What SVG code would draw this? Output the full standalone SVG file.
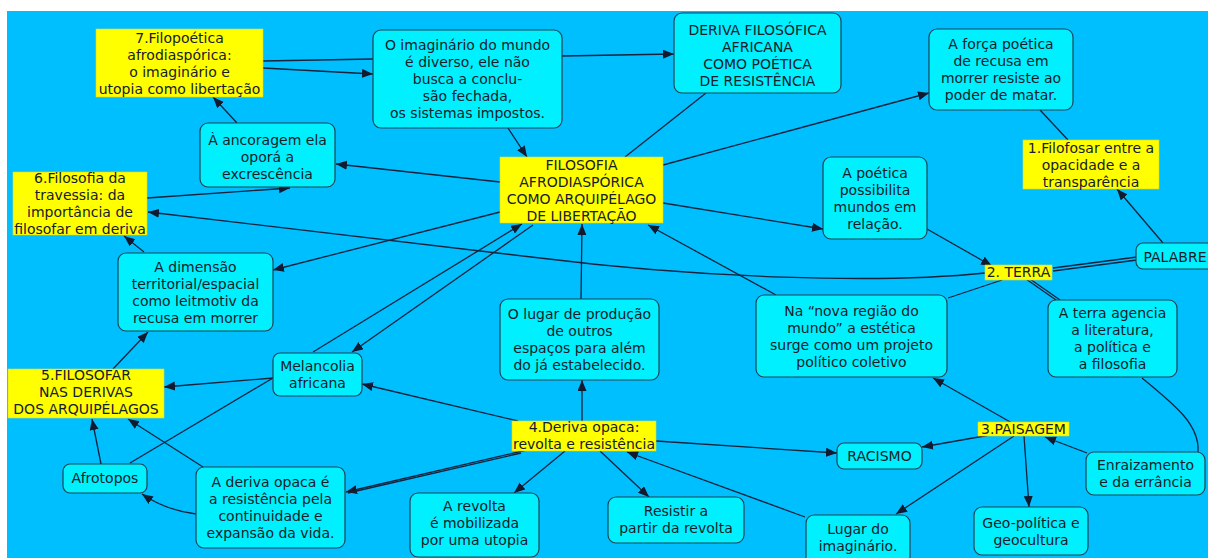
<svg xmlns="http://www.w3.org/2000/svg" width="1208" height="558" viewBox="0 0 1208 558">
<defs>
<marker id="ah" markerUnits="userSpaceOnUse" markerWidth="12" markerHeight="10" refX="11" refY="4.5" orient="auto"><path d="M0,0 L11,4.5 L0,9 z" fill="#111a2e"/></marker>
<style>
.c{fill:#00F0FF;stroke:#1e4455;stroke-width:1.2}
.y{fill:#FFFF00;stroke:#d6d63a;stroke-width:0.6}
text{font-family:"DejaVu Sans",Verdana,sans-serif;font-size:14px;fill:#16202a;text-anchor:middle}
.e path{fill:none;stroke:#14223c;stroke-width:1.3}
.a{marker-end:url(#ah)}
</style>
</defs>
<rect x="0" y="0" width="1208" height="558" fill="#ffffff"/>
<rect x="7" y="11" width="1201" height="547" fill="#00BFFF"/>
<g class="e" id="connectors">
<path d="M263,61 L373,59"/>
<path class="a" d="M263,68 L373,74"/>
<path class="a" d="M562,56 L674,54"/>
<path class="a" d="M508,128 L527,157"/>
<path d="M706,93 L625,157"/>
<path class="a" d="M663,165 L929,93"/>
<path d="M1040,110 L1068,140"/>
<path class="a" d="M1163,243 L1117,189"/>
<path class="a" d="M663,203 L823,229"/>
<path class="a" d="M927,229 L992,266"/>
<path d="M1137,257 L1053,268"/>
<path d="M1137,260 L1053,271"/>
<path class="a" d="M985,273 C880,284 700,278 540,258 L148,212"/>
<path class="a" d="M776,295 L648,225"/>
<path d="M948,298 L1002,280"/>
<path d="M1026,279 L1056,300"/>
<path d="M1030,279 L1060,300"/>
<path d="M1142,378 C1175,405 1200,425 1198,452"/>
<path class="a" d="M1012,423 L933,378"/>
<path class="a" d="M1087,453 L1045,437"/>
<path class="a" d="M990,435 L922,447"/>
<path class="a" d="M1024,436 L1029,507"/>
<path class="a" d="M1014,436 L896,514"/>
<path class="a" d="M656,441 L837,453"/>
<path class="a" d="M805,517 L627,452"/>
<path class="a" d="M600,451 L649,497"/>
<path class="a" d="M565,451 L514,493"/>
<path class="a" d="M582,421 L582,380"/>
<path class="a" d="M581,299 L582,224"/>
<path class="a" d="M518,421 L362,384"/>
<path class="a" d="M527,450 L346,492"/>
<path d="M521,453 L348,493"/>
<path class="a" d="M203,467 L128,419"/>
<path class="a" d="M196,514 Q165,510 142,494"/>
<path class="a" d="M101,464 L92,419"/>
<path d="M130,463 L273,378"/>
<path class="a" d="M273,378 L164,387"/>
<path class="a" d="M113,369 L148,332"/>
<path class="a" d="M144,252 L124,236"/>
<path class="a" d="M500,212 L273,270"/>
<path class="a" d="M147,198 L290,188"/>
<path class="a" d="M500,182 L336,164"/>
<path class="a" d="M237,123 L213,97"/>
<path class="a" d="M313,352 L522,224"/>
<path class="a" d="M533,225 L352,352"/>
</g>
<g id="n7"><rect class="y" x="96" y="29" width="167" height="68"/><text x="179.5" y="42.5">7.Filopoética<tspan x="179.5" dy="17">afrodiaspórica:</tspan><tspan x="179.5" dy="17">o imaginário e</tspan><tspan x="179.5" dy="17">utopia como libertação</tspan></text></g>
<g id="imaginario"><rect class="c" x="373" y="30" width="189" height="98" rx="8"/><text x="467.5" y="50">O imaginário do mundo<tspan x="467.5" dy="17">é diverso, ele não</tspan><tspan x="467.5" dy="17">busca a conclu-</tspan><tspan x="467.5" dy="17">são fechada,</tspan><tspan x="467.5" dy="17">os sistemas impostos.</tspan></text></g>
<g id="deriva"><rect class="c" x="674" y="13" width="167" height="80" rx="8"/><text x="757.5" y="34.5">DERIVA FILOSÓFICA<tspan x="757.5" dy="17">AFRICANA</tspan><tspan x="757.5" dy="17">COMO POÉTICA</tspan><tspan x="757.5" dy="17">DE RESISTÊNCIA</tspan></text></g>
<g id="forca"><rect class="c" x="929" y="29" width="144" height="81" rx="8"/><text x="1001" y="49">A força poética<tspan x="1001" dy="17">de recusa em</tspan><tspan x="1001" dy="17">morrer resiste ao</tspan><tspan x="1001" dy="17">poder de matar.</tspan></text></g>
<g id="n1"><rect class="y" x="1023" y="140" width="136" height="49"/><text x="1091" y="153">1.Filofosar entre a<tspan x="1091" dy="17">opacidade e a</tspan><tspan x="1091" dy="17">transparência</tspan></text></g>
<g id="poetica"><rect class="c" x="823" y="157" width="104" height="82" rx="8"/><text x="875" y="177.5">A poética<tspan x="875" dy="17">possibilita</tspan><tspan x="875" dy="17">mundos em</tspan><tspan x="875" dy="17">relação.</tspan></text></g>
<g id="palabre"><rect class="c" x="1136" y="243" width="78" height="26" rx="7"/><text x="1175" y="262">PALABRE</text></g>
<g id="n2"><rect class="y" x="985" y="265" width="67" height="15"/><text x="1018.5" y="277">2. TERRA</text></g>
<g id="ancoragem"><rect class="c" x="200" y="123" width="135" height="64" rx="8"/><text x="267.5" y="145">À ancoragem ela<tspan x="267.5" dy="17">oporá a</tspan><tspan x="267.5" dy="17">excrescência</tspan></text></g>
<g id="n6"><rect class="y" x="13" y="172" width="134" height="63"/><text x="80" y="183">6.Filosofia da<tspan x="80" dy="17">travessia: da</tspan><tspan x="80" dy="17">importância de</tspan><tspan x="80" dy="17">filosofar em deriva</tspan></text></g>
<g id="central"><rect class="y" x="500" y="157" width="163" height="66"/><text x="581.5" y="169.5">FILOSOFIA<tspan x="581.5" dy="17">AFRODIASPÓRICA</tspan><tspan x="581.5" dy="17">COMO ARQUIPÉLAGO</tspan><tspan x="581.5" dy="17">DE LIBERTAÇÃO</tspan></text></g>
<g id="dimensao"><rect class="c" x="118" y="253" width="155" height="78" rx="8"/><text x="195.5" y="271.5">A dimensão<tspan x="195.5" dy="17">territorial/espacial</tspan><tspan x="195.5" dy="17">como leitmotiv da</tspan><tspan x="195.5" dy="17">recusa em morrer</tspan></text></g>
<g id="lugarproducao"><rect class="c" x="500" y="299" width="159" height="81" rx="8"/><text x="579.5" y="318.5">O lugar de produção<tspan x="579.5" dy="17">de outros</tspan><tspan x="579.5" dy="17">espaços para além</tspan><tspan x="579.5" dy="17">do já estabelecido.</tspan></text></g>
<g id="novaregiao"><rect class="c" x="756" y="295" width="191" height="82" rx="8"/><text x="851.5" y="315.5">Na “nova região do<tspan x="851.5" dy="17">mundo” a estética</tspan><tspan x="851.5" dy="17">surge como um projeto</tspan><tspan x="851.5" dy="17">político coletivo</tspan></text></g>
<g id="terraagencia"><rect class="c" x="1048" y="300" width="129" height="77" rx="8"/><text x="1112.5" y="317.5">A terra agencia<tspan x="1112.5" dy="17">a literatura,</tspan><tspan x="1112.5" dy="17">a política e</tspan><tspan x="1112.5" dy="17">a filosofia</tspan></text></g>
<g id="melancolia"><rect class="c" x="273" y="353" width="89" height="43" rx="7"/><text x="317.5" y="371">Melancolia<tspan x="317.5" dy="17">africana</tspan></text></g>
<g id="n5"><rect class="y" x="8" y="369" width="156" height="49"/><text x="86" y="379.5">5.FILOSOFAR<tspan x="86" dy="17">NAS DERIVAS</tspan><tspan x="86" dy="17">DOS ARQUIPÉLAGOS</tspan></text></g>
<g id="afrotopos"><rect class="c" x="63" y="464" width="84" height="29" rx="7"/><text x="105" y="483">Afrotopos</text></g>
<g id="derivaopaca"><rect class="c" x="196" y="467" width="149" height="81" rx="8"/><text x="270.5" y="487">A deriva opaca é<tspan x="270.5" dy="17">a resistência pela</tspan><tspan x="270.5" dy="17">continuidade e</tspan><tspan x="270.5" dy="17">expansão da vida.</tspan></text></g>
<g id="n4"><rect class="y" x="512" y="421" width="144" height="30"/><text x="584" y="432">4.Deriva opaca:<tspan x="584" dy="17">revolta e resistência</tspan></text></g>
<g id="revolta"><rect class="c" x="410" y="493" width="129" height="64" rx="8"/><text x="474.5" y="511">A revolta<tspan x="474.5" dy="17">é mobilizada</tspan><tspan x="474.5" dy="17">por uma utopia</tspan></text></g>
<g id="resistir"><rect class="c" x="608" y="497" width="136" height="46" rx="8"/><text x="676" y="515.5">Resistir a<tspan x="676" dy="17">partir da revolta</tspan></text></g>
<g id="lugarimaginario"><rect class="c" x="806" y="515" width="104" height="50" rx="8"/><text x="858" y="534">Lugar do<tspan x="858" dy="17">imaginário.</tspan></text></g>
<g id="racismo"><rect class="c" x="837" y="443" width="85" height="26" rx="7"/><text x="879.5" y="461">RACISMO</text></g>
<g id="n3"><rect class="y" x="978" y="422" width="91" height="14"/><text x="1023.5" y="433.5">3.PAISAGEM</text></g>
<g id="geopolitica"><rect class="c" x="974" y="507" width="114" height="48" rx="8"/><text x="1031" y="527.5">Geo-política e<tspan x="1031" dy="17">geocultura</tspan></text></g>
<g id="enraizamento"><rect class="c" x="1086" y="452" width="119" height="43" rx="8"/><text x="1145.5" y="470">Enraizamento<tspan x="1145.5" dy="17">e da errância</tspan></text></g>
</svg>
